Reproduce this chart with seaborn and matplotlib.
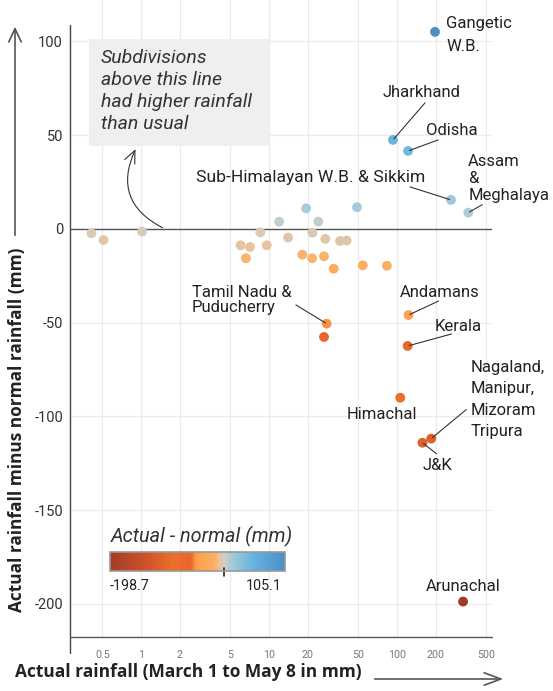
import numpy as np
import pandas as pd
import matplotlib
matplotlib.use("Agg")
import matplotlib.pyplot as plt
import seaborn as sns
from matplotlib.colors import LinearSegmentedColormap, Normalize
from matplotlib.patches import FancyArrowPatch, Rectangle
from matplotlib.lines import Line2D
from matplotlib.ticker import NullLocator, FixedLocator, FixedFormatter
import matplotlib.cm as cm

# ---------------- data ----------------
names = ["Gangetic\nW.B.", "Jharkhand", "Odisha", "Sub-Himalayan W.B. & Sikkim",
         "Assam\n&\nMeghalaya", "Tamil Nadu &\nPuducherry", "", "Andamans", "Kerala",
         "Himachal", "Nagaland,\nManipur,\nMizoram\nTripura", "J&K", "Arunachal"] + [""] * 23
actual = [198, 93, 122, 264, 360, 28.2, 26.9, 123, 121, 106, 185, 158, 328,
          19.5, 48.7, 12.0, 24.3, 8.55, 21.8, 14.1, 27.5, 35.9, 40.4,
          6.0, 7.1, 9.6, 6.6, 18.2, 21.7, 26.9, 32, 54, 83.4, 0.41, 0.51, 1.02]
diff = [105.1, 47.5, 41.6, 15.5, 8.7, -50.5, -57.6, -45.9, -62.4, -90, -111.8, -114, -198.7,
        11.0, 11.6, 3.9, 3.9, -1.8, -2.0, -4.6, -5.3, -6.4, -6.2,
        -8.7, -9.6, -8.7, -15.6, -13.7, -15.6, -14.6, -21.2, -19.4, -19.6, -2.3, -5.9, -1.4]
x_ticks = [0.5, 1, 2, 5, 10, 20, 50, 100, 200, 500]
x_tick_labels = ["0.5", "1", "2", "5", "10", "20", "50", "100", "200", "500"]
y_ticks = [-200, -150, -100, -50, 0, 50, 100]
y_tick_labels = ["-200", "-150", "-100", "-50", "0", "50", "100"]
vmin, vmax = -198.7, 105.1

df = pd.DataFrame({"name": names, "actual": actual, "diff": diff})

# ---------------- style ----------------
sns.set_theme(style="whitegrid")
plt.rcParams['font.family'] = ['Roboto', 'DejaVu Sans']

W, H = 553, 691
fig = plt.figure(figsize=(W / 100, H / 100), dpi=100)
fig.patch.set_facecolor("white")

def fp(x, y):
    return (x / W, 1 - y / H)

ax = fig.add_axes([70 / W, 54 / H, 422 / W, 637 / H])
ax.set_facecolor("white")
ax.set_xscale("log")
ax.set_xlim(0.2788, 552)
ax.set_ylim(-217.6, 122.1)

# colormap
stops = [(-198.7, '#a13b27'), (-130, '#d4552a'), (-90, '#ec6e2b'), (-58, '#e8662d'),
         (-50, '#f69a48'), (-46, '#fba24f'), (-22, '#fcab5c'), (-14, '#f8b46e'),
         (-9, '#e8c39f'), (-4, '#dcc7ae'), (0, '#d6cdc0'), (4, '#bfcfca'), (11, '#a7ccda'),
         (47, '#68b6df'), (105.1, '#4a8fc6')]
cmap = LinearSegmentedColormap.from_list(
    "rain", [((v - vmin) / (vmax - vmin), c) for v, c in stops])
norm = Normalize(vmin, vmax)

for s in ax.spines.values():
    s.set_visible(False)
ax.grid(True, color="#ebebeb", lw=0.9)
ax.set_axisbelow(True)
ax.xaxis.set_major_locator(FixedLocator(x_ticks))
ax.xaxis.set_major_formatter(FixedFormatter(x_tick_labels))
ax.xaxis.set_minor_locator(NullLocator())
ax.yaxis.set_major_locator(FixedLocator(y_ticks))
ax.yaxis.set_major_formatter(FixedFormatter(y_tick_labels))
ax.tick_params(axis="x", length=0, pad=9, labelsize=7.7, labelcolor="#777777")
ax.tick_params(axis="y", length=0, pad=5, labelsize=10.5, labelcolor="#333333")
ax.axhline(0, color="#555555", lw=1, zorder=1.6)

sns.scatterplot(data=df, x="actual", y="diff", hue="diff", palette=cmap, hue_norm=norm,
                s=50, edgecolor="none", linewidth=0, legend=False, ax=ax, zorder=3)
ax.set_xlabel("")
ax.set_ylabel("")

# custom axis lines
ax.add_line(Line2D([0, 0], [(637 - 653) / 637, (637 - 25) / 637], transform=ax.transAxes,
                   color="#444444", lw=1, clip_on=False, zorder=4))
ax.add_line(Line2D([0, 1], [0, 0], transform=ax.transAxes,
                   color="#555555", lw=1, clip_on=False, zorder=4))

# ---------------- labels ----------------
# layout: name -> (text dx, text dy, ha, linespacing, line end (dx, dy)) in pixels
layout = {
    "Gangetic\nW.B.": (11, -3.5, "left", 1.65, None),
    "Jharkhand": (29, 47, "center", 1.2, (32, 37)),
    "Odisha": (44, 20, "center", 1.2, (30, 11)),
    "Sub-Himalayan W.B. & Sikkim": (-140, 22, "center", 1.2, (-41, 13)),
    "Assam\n&\nMeghalaya": (0, 34.5, "left", 1.16, (14, 8)),
    "Tamil Nadu &\nPuducherry": (-134.7, 23.7, "left", 0.95, (-30.7, 18.7)),
    "Andamans": (31, 23, "center", 1.2, (30, 14)),
    "Kerala": (51, 19, "center", 1.2, (44, 12)),
    "Himachal": (-18, -17, "center", 1.2, None),
    "Nagaland,\nManipur,\nMizoram\nTripura": (39, 39, "left", 1.52, (35, 29)),
    "J&K": (15, -23, "center", 1.2, (14, -11)),
    "Arunachal": (0, 15, "center", 1.2, None),
}
for _, r in df.iterrows():
    if r["name"] in layout:
        dx, dy, ha, ls, le = layout[r["name"]]
        fs = 12.6 if r["name"].startswith("Sub-") else 12
        ax.annotate(r["name"], (r["actual"], r["diff"]), xytext=(dx, dy),
                    textcoords="offset pixels", ha=ha, va="center", fontsize=fs,
                    color="#222222", linespacing=ls, zorder=5)
        if le is not None:
            ax.annotate("", (r["actual"], r["diff"]), xytext=le, textcoords="offset pixels",
                        arrowprops=dict(arrowstyle="-", color="#333333", lw=0.8,
                                        shrinkA=0, shrinkB=1), zorder=5)

# annotation box
ax.add_patch(Rectangle(fp(89, 145.7), 180 / W, 106.7 / H, transform=fig.transFigure,
                       facecolor="#eef0ef", edgecolor="none", zorder=2, clip_on=False))
fig.text(*fp(101, 91), "Subdivisions\nabove this line\nhad higher rainfall\nthan usual",
         ha="left", va="center", fontsize=14, style="italic", color="#333333",
         linespacing=1.26)
fig.patches.append(FancyArrowPatch(fp(165, 229), fp(136.7, 146.7), transform=fig.transFigure,
                                   connectionstyle="arc3,rad=-0.5",
                                   arrowstyle="->,head_length=0.9,head_width=0.4",
                                   mutation_scale=10, color="#333333", lw=0.8))

# axis titles and arrows
bold_font = ['Open Sans', 'DejaVu Sans']
fig.text(*fp(17, 430), "Actual rainfall minus normal rainfall (mm)", rotation=90,
         ha="center", va="center", fontsize=12.4, fontweight="bold", color="#222222",
         family=bold_font)
fig.text(*fp(15, 672), "Actual rainfall (March 1 to May 8 in mm)",
         ha="left", va="center", fontsize=12.5, fontweight="bold", color="#222222",
         family=bold_font)
fig.patches.append(FancyArrowPatch(fp(15, 238), fp(15, 24), transform=fig.transFigure,
                                   arrowstyle="->,head_length=0.95,head_width=0.45",
                                   mutation_scale=10, color="#555555", lw=1.2))
fig.patches.append(FancyArrowPatch(fp(372, 679), fp(506, 679), transform=fig.transFigure,
                                   arrowstyle="->,head_length=1.2,head_width=0.45",
                                   mutation_scale=10, color="#555555", lw=1.2))

# colour legend
cax = fig.add_axes([110 / W, 1 - 571 / H, 175 / W, 19 / H])
cb = fig.colorbar(cm.ScalarMappable(norm=norm, cmap=cmap), cax=cax, orientation="horizontal")
cb.outline.set_edgecolor("#999999")
cb.outline.set_linewidth(1.2)
cax.set_xticks([])
cax.plot([0, 0], [-0.25, 0.15], transform=cax.get_xaxis_transform(), clip_on=False,
         color="#222222", lw=1.2)
fig.text(*fp(111, 536), "Actual - normal (mm)", ha="left", va="center", fontsize=14.3,
         style="italic", color="#333333")
fig.text(*fp(110, 586), f"{vmin}", ha="left", va="center", fontsize=10.3, color="#222222")
fig.text(*fp(282, 586), f"{vmax}", ha="right", va="center", fontsize=10.3, color="#222222")

fig.savefig("out.png", dpi=100, facecolor="white")
